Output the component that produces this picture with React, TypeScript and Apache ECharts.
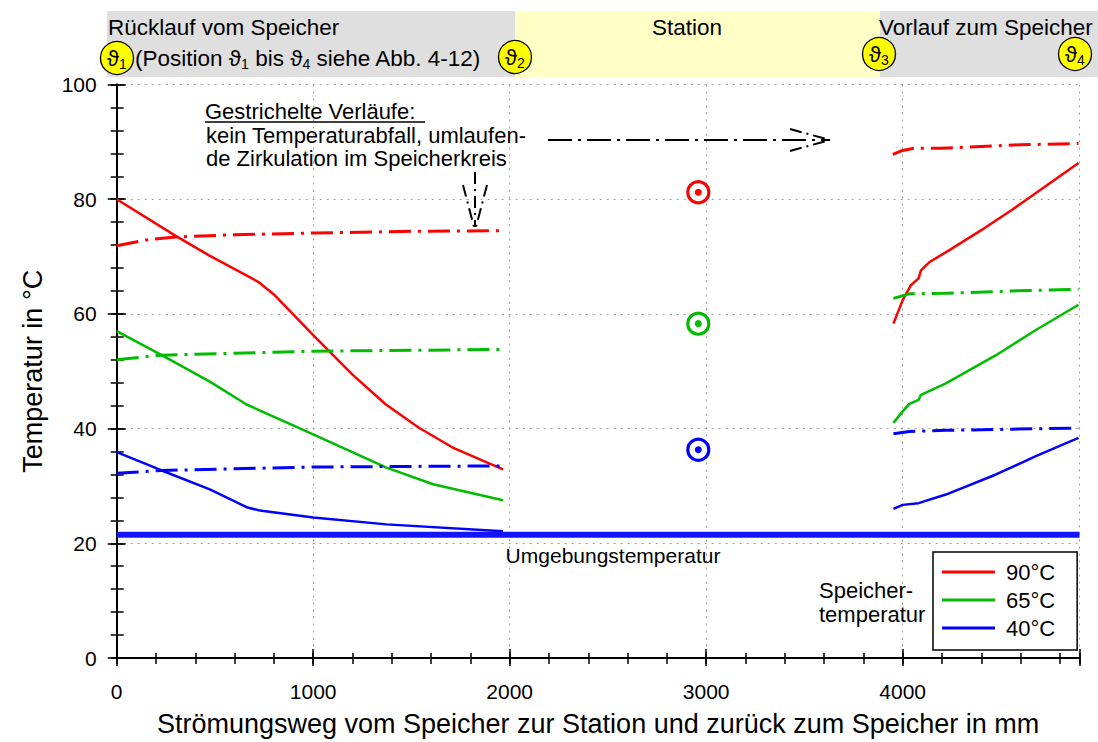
import React, { useEffect, useRef } from 'react';
import * as echarts from 'echarts';

const FONT = '"Liberation Sans", Arial, Helvetica, sans-serif';

// x in mm, y in °C
const red90Left: number[][] = [[0, 80], [300, 73.6], [470, 70.2], [660, 66.7], [720, 65.6], [800, 63.4], [1000, 56.3], [1200, 49.4], [1370, 44.2], [1540, 40.1], [1710, 36.7], [1966, 32.9]];
const red90Right: number[][] = [[3953, 58.3], [4000, 62.4], [4042, 65.0], [4081, 66.2], [4093, 67.6], [4135, 69.0], [4246, 71.3], [4400, 74.6], [4559, 78.2], [4720, 82.1], [4895, 86.3]];
const red90CircLeft: number[][] = [[0, 71.9], [150, 72.9], [300, 73.4], [600, 73.8], [1000, 74.1], [1500, 74.4], [1966, 74.5]];
const red90CircRight: number[][] = [[3950, 87.8], [4000, 88.5], [4060, 88.9], [4200, 88.9], [4400, 89.2], [4600, 89.5], [4895, 89.7]];

const green65Left: number[][] = [[0, 57.0], [229, 52.8], [474, 48.2], [661, 44.2], [1000, 39.0], [1373, 33.2], [1610, 30.3], [1966, 27.5]];
const green65Right: number[][] = [[3953, 41.0], [4000, 43.0], [4034, 44.3], [4081, 45.0], [4093, 45.9], [4220, 47.9], [4475, 52.8], [4678, 57.2], [4895, 61.6]];
const green65CircLeft: number[][] = [[0, 52.0], [229, 52.8], [1000, 53.5], [1966, 53.8]];
const green65CircRight: number[][] = [[3953, 62.7], [4034, 63.5], [4220, 63.6], [4559, 64.0], [4895, 64.3]];

const blue40Left: number[][] = [[0, 35.9], [229, 32.7], [474, 29.4], [661, 26.3], [729, 25.7], [1000, 24.5], [1373, 23.3], [1966, 22.1]];
const blue40Right: number[][] = [[3953, 26.0], [4000, 26.7], [4081, 27.0], [4220, 28.5], [4475, 32.0], [4678, 35.2], [4895, 38.4]];
const blue40CircLeft: number[][] = [[0, 32.2], [229, 32.7], [1000, 33.3], [1966, 33.5]];
const blue40CircRight: number[][] = [[3953, 39.1], [4034, 39.5], [4220, 39.7], [4559, 39.9], [4895, 40.1]];

const ambient: number[][] = [[0, 21.5], [4900, 21.5]];
const stationX = 2960;
const stationRed = 81.2;
const stationGreen = 58.3;
const stationBlue = 36.3;

const legendNames = ['90°C', '65°C', '40°C'];
const colors = ['#ff0000', '#00bb00', '#0000ff'];

const X_MIN = 0, X_MAX = 4900, Y_MIN = 0, Y_MAX = 100;

const DASHDOT = [22, 7, 3, 7];

function solid(name: string, color: string, data: number[][]) {
  return { type: 'line', name, data, showSymbol: false, symbol: 'none', lineStyle: { color, width: 2.5 }, itemStyle: { color }, z: 3 };
}
function dashdot(name: string, color: string, data: number[][]) {
  return { type: 'line', name, data, showSymbol: false, symbol: 'none', lineStyle: { color, width: 3, type: DASHDOT }, itemStyle: { color }, z: 3 };
}

const black = '#000';
const annDash = [12, 5, 2, 5];

function thetaCircle(cx: number, cy: number, idx: string) {
  return {
    type: 'group', x: cx, y: cy, children: [
      { type: 'circle', shape: { cx: 0, cy: 0, r: 16.5 }, style: { fill: '#ffff00', stroke: black, lineWidth: 1.3 } },
      {
        type: 'text', x: 0, y: 0, style: {
          text: '{a|ϑ}{b|' + idx + '}', align: 'center', verticalAlign: 'middle',
          rich: {
            a: { fontSize: 22, fontFamily: FONT, fill: black, lineHeight: 26 },
            b: { fontSize: 14, fontFamily: FONT, fill: black, lineHeight: 14, verticalAlign: 'bottom' },
          },
        },
      },
    ],
  };
}

const option: any = {
  animation: false,
  backgroundColor: '#ffffff',
  grid: { left: 116.7, right: 18.5, top: 84.5, bottom: 80.5, containLabel: false },
  legend: {
    data: legendNames, orient: 'vertical', left: 933, top: 552, icon: 'rect', itemWidth: 53, itemHeight: 3, itemGap: 4,
    borderColor: black, borderWidth: 1.5, padding: [8, 22, 10, 9], selectedMode: false, backgroundColor: '#fff',
    textStyle: { fontSize: 22, fontFamily: FONT, color: black, lineHeight: 24, padding: [0, 0, 0, 6] },
  },
  xAxis: [
    {
      type: 'value', min: X_MIN, max: X_MAX, interval: 1000, position: 'bottom',
      name: 'Strömungsweg vom Speicher zur Station und zurück zum Speicher in mm', nameLocation: 'middle', nameGap: 52,
      nameTextStyle: { fontSize: 27, fontFamily: FONT, color: black },
      axisLine: { show: true, lineStyle: { color: black, width: 2 } },
      axisTick: { show: true, inside: true, length: 9, lineStyle: { color: black, width: 1.5 } },
      axisLabel: { fontSize: 21, fontFamily: FONT, color: black, margin: 23, formatter: (v: number) => (v % 1000 === 0 ? String(v) : '') },
      splitLine: { show: true, lineStyle: { color: '#a0a0a0', width: 1, type: [2, 5] } },
    },
    {
      type: 'value', min: X_MIN, max: X_MAX, interval: 200, position: 'bottom', gridIndex: 0,
      axisLine: { show: false }, axisTick: { show: true, inside: true, length: 5, lineStyle: { color: black, width: 1.5 } },
      axisLabel: { show: false }, splitLine: { show: false },
    },
    {
      type: 'value', min: X_MIN, max: X_MAX, interval: 1000, position: 'bottom', gridIndex: 0,
      axisLine: { show: false }, axisTick: { show: true, inside: false, length: 8, lineStyle: { color: black, width: 1.5 } },
      axisLabel: { show: false }, splitLine: { show: false },
    },
    {
      type: 'value', min: X_MIN, max: X_MAX, interval: 200, position: 'top', gridIndex: 0,
      axisLine: { show: true, lineStyle: { color: black, width: 2 } }, axisTick: { show: true, inside: true, length: 6, lineStyle: { color: black, width: 1.5 } },
      axisLabel: { show: false }, splitLine: { show: false },
    },
  ],
  yAxis: [
    {
      type: 'value', min: Y_MIN, max: Y_MAX, interval: 20, position: 'left',
      name: 'Temperatur in °C', nameLocation: 'middle', nameGap: 70,
      nameTextStyle: { fontSize: 27, fontFamily: FONT, color: black },
      axisLine: { show: true, lineStyle: { color: black, width: 2 } },
      axisTick: { show: true, inside: true, length: 9, lineStyle: { color: black, width: 1.5 } },
      axisLabel: { fontSize: 21, fontFamily: FONT, color: black, margin: 20 },
      splitLine: { show: true, lineStyle: { color: '#a0a0a0', width: 1, type: [2, 5] } },
    },
    {
      type: 'value', min: Y_MIN, max: Y_MAX, interval: 4, position: 'left', gridIndex: 0,
      axisLine: { show: false }, axisTick: { show: true, inside: true, length: 7, lineStyle: { color: black, width: 1.5 } },
      axisLabel: { show: false }, splitLine: { show: false },
    },
    {
      type: 'value', min: Y_MIN, max: Y_MAX, interval: 20, position: 'left', gridIndex: 0,
      axisLine: { show: false }, axisTick: { show: true, inside: false, length: 9, lineStyle: { color: black, width: 1.5 } },
      axisLabel: { show: false }, splitLine: { show: false },
    },
    {
      type: 'value', min: Y_MIN, max: Y_MAX, interval: 4, position: 'right', gridIndex: 0,
      axisLine: { show: true, lineStyle: { color: black, width: 2 } }, axisTick: { show: true, inside: true, length: 6, lineStyle: { color: black, width: 1.5 } },
      axisLabel: { show: false }, splitLine: { show: false },
    },
  ],
  series: [
    { type: 'line', name: 'Umgebungstemperatur', data: ambient, showSymbol: false, symbol: 'none', lineStyle: { color: '#1414ff', width: 6 }, z: 4 },
    solid('90°C', colors[0], red90Left),
    solid('90°C', colors[0], red90Right),
    dashdot('90°C umlaufend', colors[0], red90CircLeft),
    dashdot('90°C umlaufend', colors[0], red90CircRight),
    solid('65°C', colors[1], green65Left),
    solid('65°C', colors[1], green65Right),
    dashdot('65°C umlaufend', colors[1], green65CircLeft),
    dashdot('65°C umlaufend', colors[1], green65CircRight),
    solid('40°C', colors[2], blue40Left),
    solid('40°C', colors[2], blue40Right),
    dashdot('40°C umlaufend', colors[2], blue40CircLeft),
    dashdot('40°C umlaufend', colors[2], blue40CircRight),
    {
      type: 'scatter', name: 'Station Ring', symbol: 'circle', symbolSize: 21, z: 5,
      data: [
        { value: [stationX, stationRed], itemStyle: { color: '#fff', borderColor: colors[0], borderWidth: 3.2, opacity: 1 } },
        { value: [stationX, stationGreen], itemStyle: { color: '#fff', borderColor: colors[1], borderWidth: 3.2, opacity: 1 } },
        { value: [stationX, stationBlue], itemStyle: { color: '#fff', borderColor: colors[2], borderWidth: 3.2, opacity: 1 } },
      ],
    },
    {
      type: 'scatter', name: 'Station Punkt', symbol: 'circle', symbolSize: 7, z: 6,
      data: [
        { value: [stationX, stationRed], itemStyle: { color: colors[0], opacity: 1 } },
        { value: [stationX, stationGreen], itemStyle: { color: colors[1], opacity: 1 } },
        { value: [stationX, stationBlue], itemStyle: { color: colors[2], opacity: 1 } },
      ],
    },
  ],
  graphic: [
    { type: 'rect', shape: { x: 107, y: 11, width: 408, height: 66 }, style: { fill: '#dfdfdf' }, z: 0 },
    { type: 'rect', shape: { x: 515, y: 11, width: 365, height: 66 }, style: { fill: '#ffffc6' }, z: 0 },
    { type: 'rect', shape: { x: 880, y: 11, width: 218, height: 66 }, style: { fill: '#dfdfdf' }, z: 0 },
    { type: 'text', x: 108, y: 27, style: { text: 'Rücklauf vom Speicher', fontSize: 22.5, fontFamily: FONT, fill: black, align: 'left', verticalAlign: 'middle' }, z: 2 },
    { type: 'text', x: 687, y: 27, style: { text: 'Station', fontSize: 22.5, fontFamily: FONT, fill: black, align: 'center', verticalAlign: 'middle' }, z: 2 },
    { type: 'text', x: 879, y: 27, style: { text: 'Vorlauf zum Speicher', fontSize: 22.5, fontFamily: FONT, fill: black, align: 'left', verticalAlign: 'middle' }, z: 2 },
    {
      type: 'text', x: 135, y: 58, z: 2, style: {
        text: '{n|(Position ϑ}{s|1}{n| bis ϑ}{s|4}{n| siehe Abb. 4-12)}', align: 'left', verticalAlign: 'middle',
        rich: {
          n: { fontSize: 22.5, fontFamily: FONT, fill: black, lineHeight: 26 },
          s: { fontSize: 14, fontFamily: FONT, fill: black, lineHeight: 14, verticalAlign: 'bottom' },
        },
      },
    },
    { ...thetaCircle(117, 58, '1'), z: 3 },
    { ...thetaCircle(515, 57, '2'), z: 3 },
    { ...thetaCircle(879, 54, '3'), z: 3 },
    { ...thetaCircle(1075, 54, '4'), z: 3 },
    { type: 'text', x: 205, y: 111, style: { text: 'Gestrichelte Verläufe:', fontSize: 22, fontFamily: FONT, fill: black, align: 'left', verticalAlign: 'middle' }, z: 5 },
    { type: 'line', shape: { x1: 205, y1: 122, x2: 425, y2: 122 }, style: { stroke: black, lineWidth: 1.5 }, z: 5 },
    { type: 'text', x: 206, y: 135, style: { text: 'kein Temperaturabfall, umlaufen-', fontSize: 22, fontFamily: FONT, fill: black, align: 'left', verticalAlign: 'middle' }, z: 5 },
    { type: 'text', x: 206, y: 158, style: { text: 'de Zirkulation im Speicherkreis', fontSize: 22, fontFamily: FONT, fill: black, align: 'left', verticalAlign: 'middle' }, z: 5 },
    // vertical arrow
    { type: 'line', shape: { x1: 475, y1: 172, x2: 475, y2: 227 }, style: { stroke: black, lineWidth: 2, lineDash: annDash }, z: 5 },
    { type: 'line', shape: { x1: 463, y1: 185, x2: 474, y2: 227 }, style: { stroke: black, lineWidth: 2, lineDash: annDash }, z: 5 },
    { type: 'line', shape: { x1: 487, y1: 185, x2: 476, y2: 227 }, style: { stroke: black, lineWidth: 2, lineDash: annDash }, z: 5 },
    // horizontal arrow
    { type: 'line', shape: { x1: 548, y1: 140, x2: 830, y2: 140 }, style: { stroke: black, lineWidth: 2, lineDash: [24, 6, 3, 6] }, z: 5 },
    { type: 'line', shape: { x1: 790, y1: 129, x2: 830, y2: 140 }, style: { stroke: black, lineWidth: 2, lineDash: annDash }, z: 5 },
    { type: 'line', shape: { x1: 790, y1: 151, x2: 830, y2: 140 }, style: { stroke: black, lineWidth: 2, lineDash: annDash }, z: 5 },
    { type: 'text', x: 613, y: 555, style: { text: 'Umgebungstemperatur', fontSize: 21, fontFamily: FONT, fill: black, align: 'center', verticalAlign: 'middle' }, z: 5 },
    { type: 'text', x: 819, y: 590, style: { text: 'Speicher-', fontSize: 22, fontFamily: FONT, fill: black, align: 'left', verticalAlign: 'middle' }, z: 5 },
    { type: 'text', x: 819, y: 614, style: { text: 'temperatur', fontSize: 22, fontFamily: FONT, fill: black, align: 'left', verticalAlign: 'middle' }, z: 5 },
  ],
};

export default function App() {
  const ref = useRef<HTMLDivElement>(null);
  useEffect(() => {
    if (!ref.current) return;
    const chart = echarts.init(ref.current, null, { renderer: 'svg' });
    chart.setOption(option);
    return () => chart.dispose();
  }, []);
  return <div ref={ref} style={{ position: 'fixed', left: 0, top: 0, width: 1098, height: 742, background: '#fff' }} />;
}
